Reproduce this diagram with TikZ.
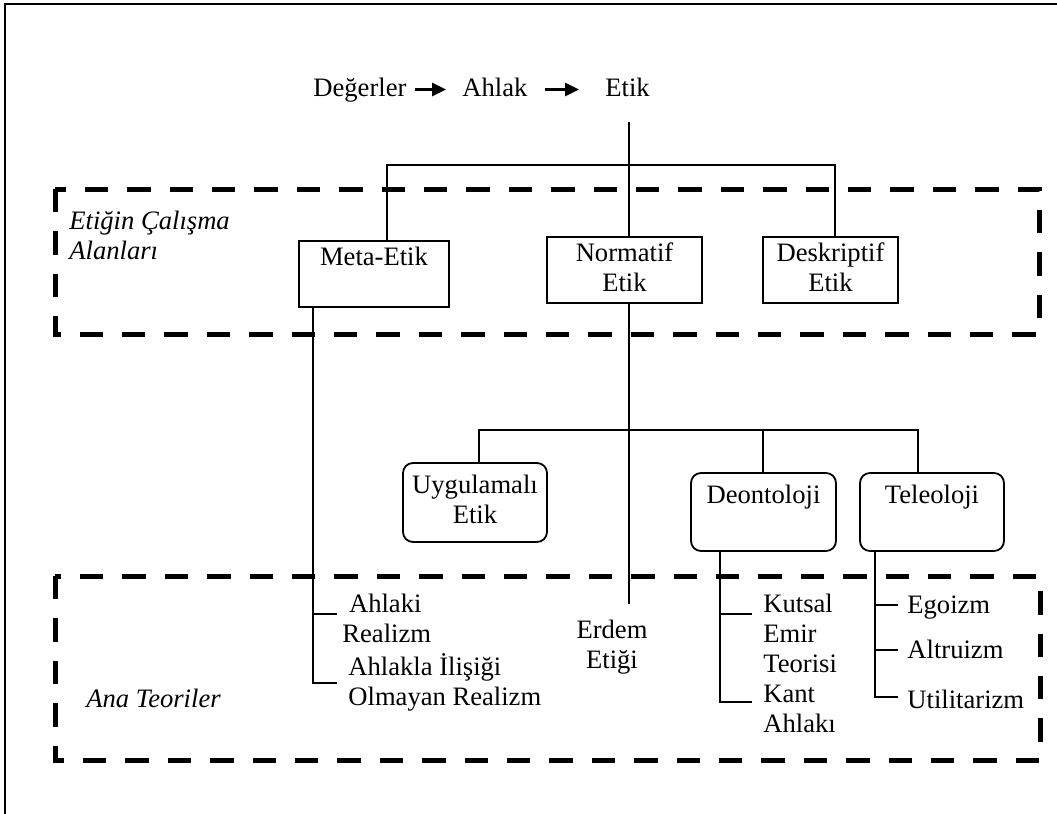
\documentclass[tikz,border=0pt]{standalone}
\usepackage{fontspec}
\setmainfont{Liberation Serif}
\usetikzlibrary{arrows.meta}
\begin{document}
\begin{tikzpicture}[x=0.5pt,y=-0.5pt,
  every node/.style={inner sep=0pt, font=\fontsize{13.3}{15}\selectfont},
  line/.style={line width=0.9pt},
  box/.style={draw, line width=0.9pt, align=center},
  rbox/.style={box, rounded corners=5pt},
  head/.style={anchor=base west, text height=9.5pt, text depth=3pt},
  leaf/.style={anchor=base west},
  zonelabel/.style={anchor=base west, font=\fontsize{13.3}{15}\selectfont\itshape},
  zone/.style={line width=2.5pt, dash pattern=on 11.7pt off 9.5pt},
  arr/.style={line width=1.3pt, -{Triangle[length=7pt,width=6.5pt]}}
]
\useasboundingbox (0,0) rectangle (1057,814);

% page frame
\draw[line width=1pt] (4.5,814) -- (4.5,3.5) -- (1057,3.5);

% dashed zones
\draw[zone] (55,189) rectangle (1039,334);
\draw[zone] (55,576) rectangle (1040,760);
\node[zonelabel] (zone1) at (69,229) {\begin{tabular}[t]{@{}l@{}}Etiğin Çalışma\\Alanları\end{tabular}};
\node[zonelabel] (zone2) at (86,707) {Ana Teoriler};

% heading row
\node[head] (degerler) at (313,96) {Değerler};
\node[head] (ahlak) at (462,96) {Ahlak};
\node[head] (etik) at (605,96) {Etik};
\draw[arr, shorten <=4pt, shorten >=8pt] (degerler.east) -- (ahlak.west);
\draw[arr, shorten <=8.5pt, shorten >=13pt] (ahlak.east) -- (etik.west);

% fields of ethics
\node[box, minimum width=75pt, minimum height=33pt] (meta) at (374,274) {\strut Meta-Etik\\\strut};
\node[box, minimum width=77.5pt, minimum height=33pt] (normatif) at (624.5,270) {\strut Normatif\\\strut Etik};
\node[box, minimum width=67.5pt, minimum height=33pt] (deskriptif) at (830.5,270) {\strut Deskriptif\\\strut Etik};

% branches of normative ethics
\node[rbox, minimum width=72pt, minimum height=39.5pt] (uygulamali) at (475,502.5) {\strut Uygulamalı\\\strut Etik};
\node[rbox, minimum width=72.5pt, minimum height=39pt] (deontoloji) at (763.5,512) {\strut Deontoloji\\\strut};
\node[rbox, minimum width=72pt, minimum height=39pt] (teleoloji) at (932,512) {\strut Teleoloji\\\strut};

% theories
\node[leaf] (realizm) at (342,612) {\begin{tabular}[t]{@{}l@{}}\hspace{0.25em}Ahlaki\\Realizm\end{tabular}};
\node[leaf] (olmayan) at (348,675) {\begin{tabular}[t]{@{}l@{}}Ahlakla İlişiği\\Olmayan Realizm\end{tabular}};
\node[anchor=base] (erdem) at (612,638) {\begin{tabular}[t]{@{}c@{}}Erdem\\Etiği\end{tabular}};
\node[leaf] (kutsal) at (763,612) {\begin{tabular}[t]{@{}l@{}}Kutsal\\Emir\\Teorisi\end{tabular}};
\node[leaf] (kant) at (763,702) {\begin{tabular}[t]{@{}l@{}}Kant\\Ahlakı\end{tabular}};
\node[leaf] (egoizm) at (907,613) {Egoizm};
\node[leaf] (altruizm) at (907,658) {Altruizm};
\node[leaf] (utilitarizm) at (907,708) {Utilitarizm};

% connector anchors
\coordinate (etikfoot) at (629,122);
\coordinate (busL) at (387,165);
\coordinate (busR) at (835,165);
\coordinate (bus2L) at (479,430);
\coordinate (bus2M) at (763,430);
\coordinate (bus2R) at (918,430);
\coordinate (metaleg) at (313,683);
\coordinate (metatip) at (337,0);
\coordinate (erdemtop) at (629,604);
\coordinate (deonleg) at (720,702);
\coordinate (deontip) at (752,0);
\coordinate (teleleg) at (875,697);
\coordinate (teletip) at (898,0);

% tree from Etik
\draw[line] (etikfoot) -- (etikfoot |- normatif.north);
\draw[line] (busL |- meta.north) -- (busL) -- (busR) -- (busR |- deskriptif.north);

% tree from Normatif Etik
\draw[line] (etikfoot |- normatif.south) -- (erdemtop);
\draw[line] (bus2L |- uygulamali.north) -- (bus2L) -- (bus2R) -- (bus2R |- teleoloji.north);
\draw[line] (bus2M) -- (bus2M |- deontoloji.north);

% Meta-Etik theories
\draw[line] (metaleg |- meta.south) -- (metaleg) -- (metaleg -| metatip);
\draw[line] (313,614) -- (337,614);

% Deontoloji theories
\draw[line] (deonleg |- deontoloji.south) -- (deonleg) -- (deonleg -| deontip);
\draw[line] (720,614) -- (752,614);

% Teleoloji theories
\draw[line] (teleleg |- teleoloji.south) -- (teleleg) -- (teleleg -| teletip);
\draw[line] (875,605) -- (898,605);
\draw[line] (875,650) -- (898,650);
\end{tikzpicture}
\end{document}
